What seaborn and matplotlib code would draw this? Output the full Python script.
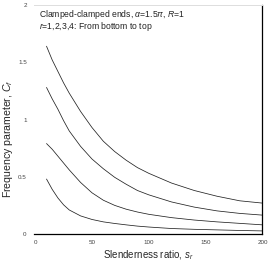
import numpy as np
import pandas as pd
import matplotlib
matplotlib.use("Agg")
import matplotlib.pyplot as plt
from matplotlib.ticker import MultipleLocator
import seaborn as sns

# slenderness ratio grid and frequency parameter for r = 1..4
s_r = [10, 15, 20, 25, 30, 40, 50, 60, 70, 80, 90, 100, 120, 140, 160, 180, 200]
c_r1 = [0.48, 0.39, 0.315, 0.255, 0.21, 0.158, 0.127, 0.106, 0.092, 0.08, 0.069, 0.061, 0.048, 0.041, 0.036, 0.031, 0.027]
c_r2 = [0.79, 0.74, 0.68, 0.62, 0.56, 0.45, 0.36, 0.295, 0.25, 0.217, 0.192, 0.172, 0.143, 0.122, 0.106, 0.093, 0.08]
c_r3 = [1.28, 1.18, 1.09, 0.99, 0.9, 0.765, 0.655, 0.57, 0.495, 0.435, 0.38, 0.342, 0.28, 0.235, 0.202, 0.18, 0.165]
c_r4 = [1.64, 1.52, 1.42, 1.32, 1.23, 1.07, 0.93, 0.81, 0.72, 0.645, 0.58, 0.53, 0.445, 0.38, 0.33, 0.29, 0.27]
modos = ["1", "2", "3", "4"]

df = pd.DataFrame({
    "s": s_r * 4,
    "C": c_r1 + c_r2 + c_r3 + c_r4,
    "r": [m for m in modos for _ in s_r],
})

sns.set_style("white")
plt.rcParams["font.family"] = ["Liberation Sans", "DejaVu Sans"]
plt.rcParams["mathtext.fontset"] = "custom"
plt.rcParams["mathtext.it"] = "Liberation Sans:italic"
plt.rcParams["mathtext.rm"] = "Liberation Sans"

fig = plt.figure(figsize=(2.7, 2.7), dpi=100)
ax = fig.add_axes([0.126, 0.1333, 0.846, 0.8482])

sns.lineplot(data=df, x="s", y="C", hue="r", palette=["#222222"] * 4,
             linewidth=0.55, legend=False, ax=ax)

ax.set_xlim(-1, 200)
ax.set_ylim(0, 2)
ax.xaxis.set_major_locator(MultipleLocator(50))
ax.xaxis.set_minor_locator(MultipleLocator(10))
ax.yaxis.set_major_locator(MultipleLocator(0.5))
ax.yaxis.set_minor_locator(MultipleLocator(0.1))
ax.set_xticks([0, 50, 100, 150, 200])
ax.set_xticklabels(["0", "50", "100", "150", "200"])
ax.set_yticks([0, 0.5, 1, 1.5, 2])
ax.set_yticklabels(["0", "0.5", "1", "1.5", "2"])

ax.tick_params(axis="x", which="both", direction="in", length=3, width=0.7,
               labelsize=4.5, labelcolor="#444444", pad=4, color="black")
ax.tick_params(axis="y", which="major", direction="inout", length=8.5, width=0.7,
               labelsize=4.5, labelcolor="#444444", pad=1, color="black")
ax.tick_params(axis="y", which="minor", direction="inout", length=3, width=0.7,
               color="black")

ax.spines["left"].set_visible(False)
ax.spines["top"].set_color("#dddddd")
ax.spines["top"].set_linewidth(0.7)
ax.spines["bottom"].set_color("black")
ax.spines["bottom"].set_linewidth(0.9)
ax.spines["right"].set_color("black")
ax.spines["right"].set_linewidth(0.9)

ax.set_xlabel("Slenderness ratio, $s_r$", fontsize=7, labelpad=3)
ax.set_ylabel("Frequency parameter, $C_f$", fontsize=7.6, va="center")
ax.yaxis.set_label_coords(-0.112, 0.415)

ax.text(0.022, 0.958, r"Clamped-clamped ends, $\alpha$=1.5$\pi$, $R$=1",
        transform=ax.transAxes, fontsize=6.2, va="center", ha="left", color="#222222")
ax.text(0.022, 0.905, r"$r$=1,2,3,4: From bottom to top",
        transform=ax.transAxes, fontsize=6.2, va="center", ha="left", color="#222222")

plt.savefig("out.png", dpi=100)
